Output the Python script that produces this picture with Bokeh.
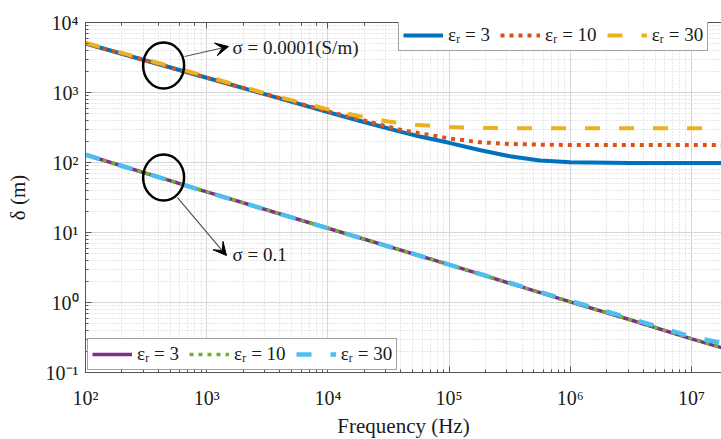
from bokeh.plotting import figure
from bokeh.models import (LogAxis, Legend, LegendItem, Arrow, VeeHead,
                          Range1d, LogTicker)
from bokeh.core.properties import value
from bokeh.embed import file_html
from bokeh.resources import INLINE

# ---------------- data ----------------
# sigma = 0.0001 S/m curves
freq_hi = [1e2, 1e3, 3.16e3, 1e4, 1.78e4, 3.16e4, 4.17e4, 5.62e4, 1e5,
           1.78e5, 3.16e5, 5.62e5, 1e6, 3.16e6, 1e7, 1.78e7]
delta_hi_er3 = [5012, 1622, 923, 525, 398, 306, 269, 237, 191,
                151, 123, 107, 101, 98, 98, 98]
delta_hi_er10 = [5012, 1622, 933, 537, 417, 324, 288, 263, 221,
                 195, 184, 180, 178, 178, 178, 178]
delta_hi_er30 = [5129, 1698, 955, 575, 462, 386, 361, 342, 321,
                 312, 309, 309, 309, 309, 309, 309]

# sigma = 0.1 S/m curves
freq_lo = [1e2, 1e3, 1e4, 1e5, 1e6, 3.16e6, 1e7, 1.78e7]
delta_lo_er3 = [129, 38.0, 11.5, 3.47, 1.02, 0.562, 0.302, 0.226]
delta_lo_er10 = [129, 38.0, 11.5, 3.47, 1.02, 0.565, 0.304, 0.229]
delta_lo_er30 = [129, 38.0, 11.5, 3.47, 1.05, 0.589, 0.324, 0.263]

labels = ["\u03b5\u1d63 = 3", "\u03b5\u1d63 = 10", "\u03b5\u1d63 = 30"]

# annotations (data coordinates)
circle_f = [441, 441]
circle_d = [2432, 61]
arrow_start_f = [656, 574]
arrow_start_d = [3266, 31.6]
arrow_end_f = [1514, 1455]
arrow_end_d = [4540, 4.69]
note_f = [1633, 1633]
note_d = [4394, 4.85]
note_text = ["\u03c3 = 0.0001(S/m)", "\u03c3 = 0.1"]

# ---------------- figure ----------------
FONT = "Liberation Serif"
AX = "#555555"

p = figure(frame_width=636, frame_height=350, x_axis_type="log",
           y_axis_type="log",
           x_range=Range1d(1e2, 1.768e7), y_range=Range1d(0.1, 1e4),
           output_backend="svg", toolbar_location=None,
           min_border_left=85, min_border_right=0, min_border_top=22,
           min_border_bottom=67, background_fill_color="white",
           border_fill_color="white")
p.outline_line_color = None

SUP = {"0": "\u2070", "1": "\u00b9", "2": "\u00b2", "3": "\u00b3",
       "4": "\u2074", "5": "\u2075", "6": "\u2076", "7": "\u2077",
       "8": "\u2078", "9": "\u2079", "-": "\u207b"}
x_tick_labels = {10 ** k: "10" + "".join(SUP[c] for c in str(k)) for k in range(2, 8)}
y_tick_labels = {(10.0 ** k if k < 0 else 10 ** k): "10" + "".join(SUP[c] for c in str(k))
                 for k in range(-1, 5)}

for ax in [p.xaxis[0], p.yaxis[0]]:
    ax.axis_line_color = AX
    ax.major_tick_line_color = AX
    ax.minor_tick_line_color = AX
    ax.major_tick_in = 6
    ax.major_tick_out = 0
    ax.minor_tick_in = 3
    ax.minor_tick_out = 0
    ax.major_label_text_font = FONT
    ax.major_label_text_font_size = "20px"
    ax.major_label_text_color = "#1a1a1a"
    ax.axis_label_text_font = FONT
    ax.axis_label_text_font_style = "normal"
    ax.axis_label_text_font_size = "21px"
    ax.axis_label_text_color = "#1a1a1a"

p.xaxis.major_label_overrides = x_tick_labels
p.yaxis.major_label_overrides = y_tick_labels
p.xaxis.axis_label = "Frequency (Hz)"
p.yaxis.axis_label = "\u03b4 (m)"
p.xaxis.major_label_standoff = 14
p.xaxis.axis_label_standoff = 2
p.yaxis.major_label_standoff = 7
p.yaxis.axis_label_standoff = 13

top = LogAxis(ticker=LogTicker(), axis_line_color=AX, major_tick_line_color=AX,
              minor_tick_line_color=AX, major_tick_in=6, major_tick_out=0,
              minor_tick_in=3, minor_tick_out=0, major_label_standoff=0,
              major_label_text_font_size="1px", major_label_text_color=None)
p.add_layout(top, "above")

for g in [p.xgrid[0], p.ygrid[0]]:
    g.grid_line_color = "#d6d6d6"
    g.grid_line_width = 1
    g.minor_grid_line_color = "#d0d0d0"
    g.minor_grid_line_dash = "1 2"
    g.minor_grid_line_width = 1

# upper curves
r_b = p.line(freq_hi, delta_hi_er3, line_color="#0072BD", line_width=4)
r_r = p.line(freq_hi, delta_hi_er10, line_color="#D95319", line_width=4,
             line_dash="4 5")
r_y = p.line(freq_hi, delta_hi_er30, line_color="#EDB120", line_width=4,
             line_dash="15 19")

# lower curves
r_p = p.line(freq_lo, delta_lo_er3, line_color="#7E2F8E", line_width=3.5)
r_g = p.line(freq_lo, delta_lo_er10, line_color="#77AC30", line_width=3.5,
             line_dash="4 5")
r_c = p.line(freq_lo, delta_lo_er30, line_color="#4DBEEE", line_width=4.5,
             line_dash="15 19")

# circles, arrows, notes
p.ellipse(x=circle_f, y=circle_d, width=41, height=46, width_units="screen",
          height_units="screen", fill_color=None, line_color="black",
          line_width=2.5)
for i in range(2):
    p.add_layout(Arrow(x_start=arrow_start_f[i], y_start=arrow_start_d[i],
                       x_end=arrow_end_f[i], y_end=arrow_end_d[i],
                       line_color="#555555", line_width=1.2,
                       end=VeeHead(size=13, fill_color="black",
                                   line_color="black")))
p.text(x=note_f, y=note_d, text=note_text, text_font=value(FONT),
       text_font_size=value("19px"), text_baseline="middle",
       text_align="left", text_color="#1a1a1a")


def make_legend(items, loc):
    return Legend(items=items, location=loc, orientation="horizontal",
                  label_text_font=FONT, label_text_font_size="19px",
                  label_text_color="#1a1a1a", glyph_width=40,
                  glyph_height=20, label_height=20, label_standoff=5,
                  spacing=10, padding=4, margin=0,
                  border_line_color="#444444", border_line_width=1,
                  background_fill_color="white", background_fill_alpha=1)


leg1 = make_legend([LegendItem(label=labels[0], renderers=[r_b]),
                    LegendItem(label=labels[1], renderers=[r_r]),
                    LegendItem(label=labels[2], renderers=[r_y])], (313, 321))
leg2 = make_legend([LegendItem(label=labels[0], renderers=[r_p]),
                    LegendItem(label=labels[1], renderers=[r_g]),
                    LegendItem(label=labels[2], renderers=[r_c])], (2, 2))
p.add_layout(leg1)
p.add_layout(leg2)

open("out.html", "w").write(file_html(p, INLINE))
